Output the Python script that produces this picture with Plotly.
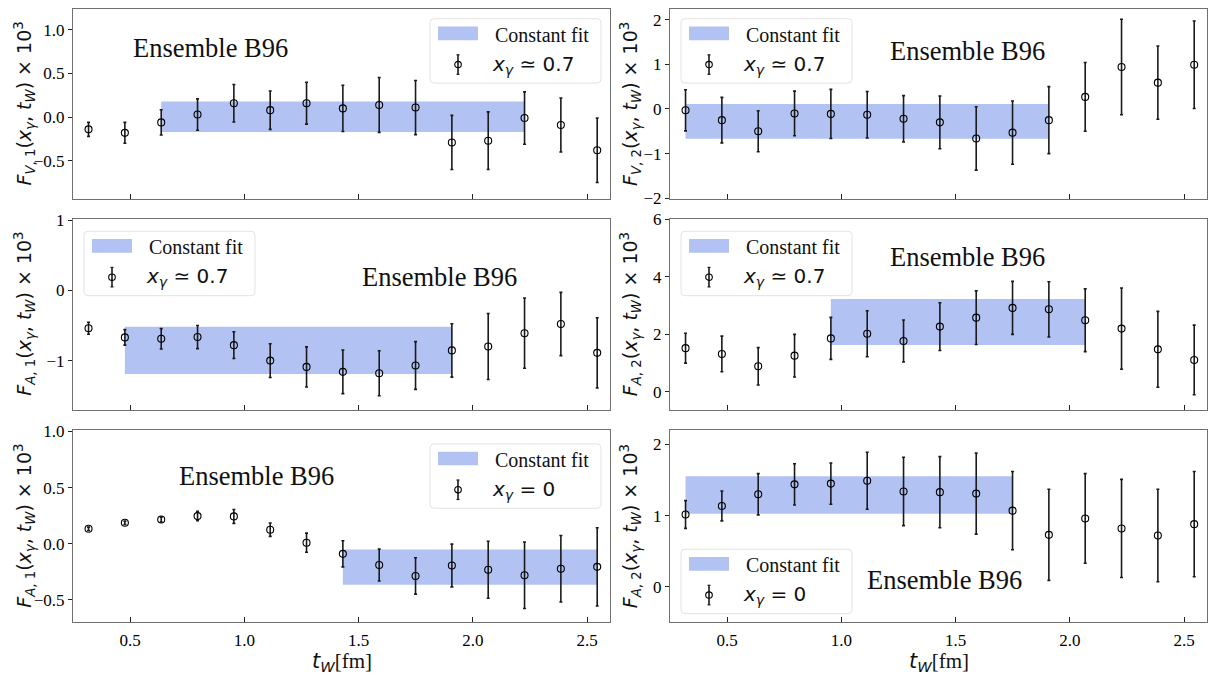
import plotly.graph_objects as go

# Euclidean time separations t_W [fm]
t_W = [0.318, 0.477, 0.636, 0.795, 0.954, 1.113, 1.272, 1.431,
       1.590, 1.749, 1.908, 2.067, 2.226, 2.385, 2.544]

# F_V,1 at x_gamma ~ 0.7  (x 10^3)
fv1 = [-0.14, -0.18, -0.06, 0.03, 0.16, 0.08, 0.16, 0.10, 0.14, 0.11,
       -0.29, -0.27, -0.01, -0.09, -0.38]
fv1_err = [0.08, 0.12, 0.145, 0.18, 0.215, 0.22, 0.24, 0.265, 0.315, 0.31,
           0.31, 0.33, 0.30, 0.31, 0.37]
fv1_fit = [-0.17, 0.18]
fv1_fit_t = [0.636, 2.226]

# F_V,2 at x_gamma ~ 0.7
fv2 = [-0.03, -0.25, -0.50, -0.10, -0.11, -0.13, -0.22, -0.30, -0.66, -0.53,
       -0.25, 0.27, 0.94, 0.59, 0.99]
fv2_err = [0.46, 0.51, 0.46, 0.50, 0.55, 0.52, 0.52, 0.59, 0.71, 0.71,
           0.75, 0.77, 1.07, 0.82, 0.98]
fv2_fit = [-0.665, 0.11]
fv2_fit_t = [0.318, 1.908]

# F_A,1 at x_gamma ~ 0.7
fa1 = [-0.54, -0.67, -0.69, -0.665, -0.78, -1.00, -1.09, -1.16, -1.18, -1.07,
       -0.855, -0.80, -0.61, -0.48, -0.89]
fa1_err = [0.085, 0.11, 0.145, 0.165, 0.19, 0.24, 0.285, 0.31, 0.32, 0.34,
           0.38, 0.47, 0.50, 0.45, 0.50]
fa1_fit = [-1.19, -0.52]
fa1_fit_t = [0.477, 1.908]

# F_A,2 at x_gamma ~ 0.7
fa2 = [1.52, 1.32, 0.89, 1.26, 1.86, 2.02, 1.77, 2.27, 2.58, 2.92,
       2.87, 2.49, 2.20, 1.48, 1.11]
fa2_err = [0.52, 0.62, 0.65, 0.74, 0.73, 0.80, 0.73, 0.83, 0.93, 0.92,
           0.96, 1.09, 1.41, 1.32, 1.21]
fa2_fit = [1.63, 3.23]
fa2_fit_t = [0.954, 2.067]

# F_A,1 at x_gamma = 0
fa1_0 = [0.133, 0.186, 0.215, 0.246, 0.243, 0.125, 0.009, -0.09, -0.19, -0.287,
         -0.194, -0.232, -0.281, -0.223, -0.206]
fa1_0_err = [0.015, 0.015, 0.022, 0.042, 0.062, 0.06, 0.085, 0.116, 0.142, 0.162,
             0.19, 0.254, 0.296, 0.296, 0.348]
fa1_0_fit = [-0.365, -0.052]
fa1_0_fit_t = [1.431, 2.544]

# F_A,2 at x_gamma = 0
fa2_0 = [1.016, 1.136, 1.30, 1.44, 1.45, 1.49, 1.34, 1.33, 1.31, 1.07,
         0.73, 0.96, 0.82, 0.72, 0.88]
fa2_0_err = [0.195, 0.21, 0.29, 0.29, 0.29, 0.40, 0.48, 0.50, 0.57, 0.55,
             0.64, 0.63, 0.69, 0.65, 0.74]
fa2_0_fit = [1.025, 1.554]
fa2_0_fit_t = [0.318, 1.749]

x_ticks = [0.5, 1.0, 1.5, 2.0, 2.5]

ens_label = "Ensemble B96"
fit_label = "Constant fit"
xg_07 = "<i>x</i><sub><i>γ</i></sub> ≃ 0.7"
xg_0 = "<i>x</i><sub><i>γ</i></sub> = 0"
x_title = ('<i>t</i><sub><i>W</i></sub>'
           '<span style="font-family:Liberation Serif,serif;font-size:21px">[fm]</span>')

W, H = 1213, 685
SERIF = "Liberation Serif, 'Times New Roman', serif"
SANS = "DejaVu Sans, sans-serif"
BAND = "rgb(178,194,242)"
SPINE = "#707070"


def fx(p):
    return p / W


def fy(p):
    return 1 - p / H


# panel frames in pixels: (left, right) per column, (top, bottom) per row
cols = [(73, 610), (670, 1207)]
rows = [(1, 196), (216, 412), (433, 630)]
ylab_x = [24.5, 630]


def ylabel(kind):
    return (f"<i>F</i><sub><i>{kind[0]}</i>, {kind[1]}</sub>(<i>x</i><sub><i>γ</i></sub>, "
            f"<i>t</i><sub><i>W</i></sub>) × 10<sup>3</sup>")


panels = [
    dict(y=fv1, e=fv1_err, fit=fv1_fit, ft=fv1_fit_t, rng=[-0.94, 1.24], dt=0.5, fmt=".1f",
         lab=ylabel("V1"), leg=(430, 11), xg=xg_07, ens=(210, 41)),
    dict(y=fv2, e=fv2_err, fit=fv2_fit, ft=fv2_fit_t, rng=[-2.02, 2.24], dt=1, fmt="d",
         lab=ylabel("V2"), leg=(681, 11), xg=xg_07, ens=(967, 44)),
    dict(y=fa1, e=fa1_err, fit=fa1_fit, ft=fa1_fit_t, rng=[-1.70, 1.02], dt=1, fmt="d",
         lab=ylabel("A1"), leg=(84, 229), xg=xg_07, ens=(439, 276)),
    dict(y=fa2, e=fa2_err, fit=fa2_fit, ft=fa2_fit_t, rng=[-0.62, 6.02], dt=2, fmt="d",
         lab=ylabel("A2"), leg=(681, 229), xg=xg_07, ens=(967, 255)),
    dict(y=fa1_0, e=fa1_0_err, fit=fa1_0_fit, ft=fa1_0_fit_t, rng=[-0.70, 1.01], dt=0.5, fmt=".1f",
         lab=ylabel("A1"), leg=(430, 447), xg=xg_0, ens=(256, 480)),
    dict(y=fa2_0, e=fa2_0_err, fit=fa2_0_fit, ft=fa2_0_fit_t, rng=[-0.50, 2.20], dt=1, fmt="d",
         lab=ylabel("A2"), leg=(681, 555), xg=xg_0, ens=(944, 587)),
]

fig = go.Figure()
shapes = []
annotations = []
layout = {}

for i, p in enumerate(panels):
    r, c = divmod(i, 2)
    (x0, x1), (y0, y1) = cols[c], rows[r]
    sfx = "" if i == 0 else str(i + 1)
    xa, ya = "x" + sfx, "y" + sfx

    # fit band
    fig.add_trace(go.Scatter(
        x=[p["ft"][0], p["ft"][1], p["ft"][1], p["ft"][0], p["ft"][0]],
        y=[p["fit"][0], p["fit"][0], p["fit"][1], p["fit"][1], p["fit"][0]],
        fill="toself", fillcolor=BAND, mode="none", xaxis=xa, yaxis=ya,
        showlegend=False, hoverinfo="skip"))
    # data points with errors
    fig.add_trace(go.Scatter(
        x=t_W, y=p["y"], mode="markers", xaxis=xa, yaxis=ya, showlegend=False,
        marker=dict(symbol="circle-open", size=7, color="black", line=dict(width=1.1)),
        error_y=dict(type="data", array=p["e"], visible=True, color="#1a1a1a",
                     thickness=1.6, width=1.5)))

    layout["xaxis" + sfx] = dict(
        domain=[fx(x0), fx(x1)], anchor=ya, range=[0.25, 2.60],
        tickvals=x_ticks, tickformat=".1f", ticklabelstandoff=2,
        showticklabels=(r == 2), ticks="inside", ticklen=5, tickwidth=1.1,
        tickcolor="#222", showline=True, linecolor=SPINE, linewidth=1, mirror=True,
        showgrid=False, zeroline=False,
        tickfont=dict(family=SERIF, size=17, color="black"))
    layout["yaxis" + sfx] = dict(
        domain=[fy(y1), fy(y0)], anchor=xa, range=p["rng"], dtick=p["dt"],
        tickformat=p["fmt"], ticks="outside", ticklen=4, tickwidth=1.1,
        tickcolor="#222", showline=True, linecolor=SPINE, linewidth=1, mirror=True,
        showgrid=False, zeroline=False,
        tickfont=dict(family=SERIF, size=17, color="black"))

    # y-axis label
    annotations.append(dict(
        x=fx(ylab_x[c]), y=fy((y0 + y1) / 2), xref="paper", yref="paper",
        text=p["lab"], textangle=-90, showarrow=False, xanchor="center", yanchor="middle",
        font=dict(family=SANS, size=19, color="#111")))
    # ensemble tag
    annotations.append(dict(
        x=fx(p["ens"][0]), y=fy(p["ens"][1]), xref="paper", yref="paper",
        text=ens_label, showarrow=False, xanchor="center", yanchor="middle",
        font=dict(family=SERIF, size=26.5, color="#111")))

    # legend box
    lx, ly = p["leg"]
    bw, bh, rad = 171, 66, 4
    ax0, ax1, ay0, ay1 = lx, lx + bw, ly, ly + bh
    path = (f"M{fx(ax0 + rad)},{fy(ay0)} L{fx(ax1 - rad)},{fy(ay0)} "
            f"Q{fx(ax1)},{fy(ay0)} {fx(ax1)},{fy(ay0 + rad)} "
            f"L{fx(ax1)},{fy(ay1 - rad)} Q{fx(ax1)},{fy(ay1)} {fx(ax1 - rad)},{fy(ay1)} "
            f"L{fx(ax0 + rad)},{fy(ay1)} Q{fx(ax0)},{fy(ay1)} {fx(ax0)},{fy(ay1 - rad)} "
            f"L{fx(ax0)},{fy(ay0 + rad)} Q{fx(ax0)},{fy(ay0)} {fx(ax0 + rad)},{fy(ay0)} Z")
    shapes.append(dict(type="path", path=path, xref="paper", yref="paper",
                       fillcolor="rgba(255,255,255,0.8)",
                       line=dict(color="#e3e3e3", width=1), layer="above"))
    # band swatch
    shapes.append(dict(type="rect", xref="paper", yref="paper",
                       x0=fx(lx + 8), x1=fx(lx + 48), y0=fy(ly + 8), y1=fy(ly + 22),
                       fillcolor=BAND, line=dict(width=0), layer="above"))
    annotations.append(dict(
        x=fx(lx + 63), y=fy(ly + 16.5), xref="paper", yref="paper", text=fit_label,
        showarrow=False, xanchor="left", yanchor="middle",
        font=dict(family=SERIF, size=20, color="#111")))
    # errorbar swatch
    mx, my = lx + 28, ly + 47
    shapes.append(dict(type="line", xref="paper", yref="paper",
                       x0=fx(mx), x1=fx(mx), y0=fy(my - 10), y1=fy(my + 10),
                       line=dict(color="#1a1a1a", width=1.6), layer="above"))
    for dy in (-10, 10):
        shapes.append(dict(type="line", xref="paper", yref="paper",
                           x0=fx(mx - 1.5), x1=fx(mx + 1.5), y0=fy(my + dy), y1=fy(my + dy),
                           line=dict(color="#1a1a1a", width=1.2), layer="above"))
    shapes.append(dict(type="circle", xref="paper", yref="paper",
                       x0=fx(mx - 3.3), x1=fx(mx + 3.3), y0=fy(my - 3.3), y1=fy(my + 3.3),
                       fillcolor="rgba(0,0,0,0)", line=dict(color="black", width=1.1),
                       layer="above"))
    annotations.append(dict(
        x=fx(lx + 60), y=fy(my), xref="paper", yref="paper", text=p["xg"],
        showarrow=False, xanchor="left", yanchor="middle",
        font=dict(family=SANS, size=20, color="#111")))

# x-axis titles under the bottom row: italic t_W in sans, unit in serif
for (x0, x1) in cols:
    annotations.append(dict(
        x=fx((x0 + x1) / 2), y=fy(685), xref="paper", yref="paper",
        text=x_title, showarrow=False, xanchor="center", yanchor="bottom",
        borderpad=0, font=dict(family=SANS, size=21, color="#111")))

fig.update_layout(
    width=W, height=H, margin=dict(l=0, r=0, t=0, b=0),
    paper_bgcolor="white", plot_bgcolor="white",
    shapes=shapes, annotations=annotations, **layout)

fig.write_html("out.html")
